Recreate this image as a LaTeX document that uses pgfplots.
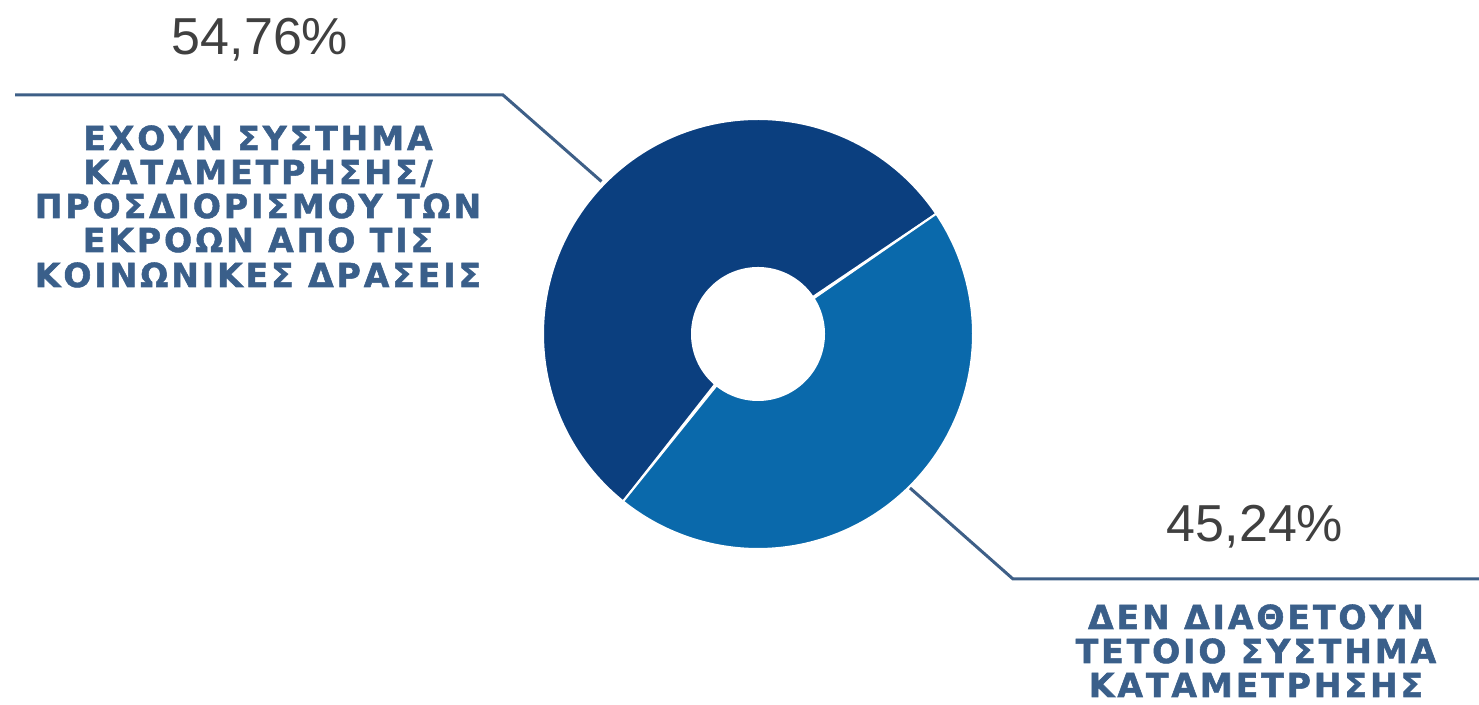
\documentclass[border=0pt]{standalone}
\usepackage{pgfplots}
\pgfplotsset{compat=1.18}
\usepackage{fontspec}
\setmainfont{Liberation Sans}
\newfontfamily\labfont[LetterSpace=9,BoldFeatures={FakeBold=1.6}]{DejaVu Sans}
\definecolor{darkb}{HTML}{0B3F7F}
\definecolor{lightb}{HTML}{0A69AB}
\definecolor{labc}{HTML}{3A5F8A}
\definecolor{linec}{HTML}{3E5F87}
\definecolor{pctc}{HTML}{404040}
\def\valA{54.76}
\def\valB{45.24}
\pgfmathsetmacro\aS{34}
\pgfmathsetmacro\aM{\aS+3.6*\valA}
\pgfmathsetmacro\aE{\aM+3.6*\valB}
\def\cx{758}\def\cy{371}\def\Ro{215}\def\Ri{66}
\begin{document}
\begin{tikzpicture}
\begin{axis}[width=739.5pt,height=352.5pt,scale only axis,
  xmin=0,xmax=1479,ymin=0,ymax=705,hide axis,clip=false]
% dark slice
\addplot[fill=darkb,draw=white,line width=1pt,line join=round,domain=0:2,samples=241,variable=\t]
  ({\cx + (\t<=1 ? \Ro*cos(\aS+\t*(\aM-\aS)) : \Ri*cos(\aM-(\t-1)*(\aM-\aS)))},
   {\cy + (\t<=1 ? \Ro*sin(\aS+\t*(\aM-\aS)) : \Ri*sin(\aM-(\t-1)*(\aM-\aS)))}) -- cycle;
% light slice
\addplot[fill=lightb,draw=white,line width=1pt,line join=round,domain=0:2,samples=241,variable=\t]
  ({\cx + (\t<=1 ? \Ro*cos(\aM+\t*(\aE-\aM)) : \Ri*cos(\aE-(\t-1)*(\aE-\aM)))},
   {\cy + (\t<=1 ? \Ro*sin(\aM+\t*(\aE-\aM)) : \Ri*sin(\aE-(\t-1)*(\aE-\aM)))}) -- cycle;
% leader lines
\addplot[linec,line width=1.5pt] coordinates {(15,610) (503,610) (601.5,523.5)};
\addplot[linec,line width=1.5pt] coordinates {(910,217) (1013,126) (1479,126)};
% percentages
\node[anchor=base,font=\fontsize{26}{30}\selectfont,text=pctc,inner sep=0pt] at (axis cs:260,650) {54,76\%};
\node[anchor=base,font=\fontsize{26}{30}\selectfont,text=pctc,inner sep=0pt] at (axis cs:1255,163.3) {45,24\%};
% labels
\begin{scope}[every node/.style={anchor=base,inner sep=0pt,text=labc,font=\labfont\bfseries\fontsize{16.5}{18}\selectfont}]
\node at (axis cs:258,555) {ΕΧΟΥΝ ΣΥΣΤΗΜΑ};
\node at (axis cs:258,521) {ΚΑΤΑΜΕΤΡΗΣΗΣ/};
\node at (axis cs:258,487) {ΠΡΟΣΔΙΟΡΙΣΜΟΥ ΤΩΝ};
\node at (axis cs:258,453) {ΕΚΡΟΩΝ ΑΠΟ ΤΙΣ};
\node at (axis cs:258,418) {ΚΟΙΝΩΝΙΚΕΣ ΔΡΑΣΕΙΣ};
\node at (axis cs:1256,76) {ΔΕΝ ΔΙΑΘΕΤΟΥΝ};
\node at (axis cs:1256,42) {ΤΕΤΟΙΟ ΣΥΣΤΗΜΑ};
\node at (axis cs:1256,8) {ΚΑΤΑΜΕΤΡΗΣΗΣ};
\end{scope}
\end{axis}
\pgfresetboundingbox
\path[use as bounding box] (current axis.south west) rectangle (current axis.north east);
\end{tikzpicture}
\end{document}
